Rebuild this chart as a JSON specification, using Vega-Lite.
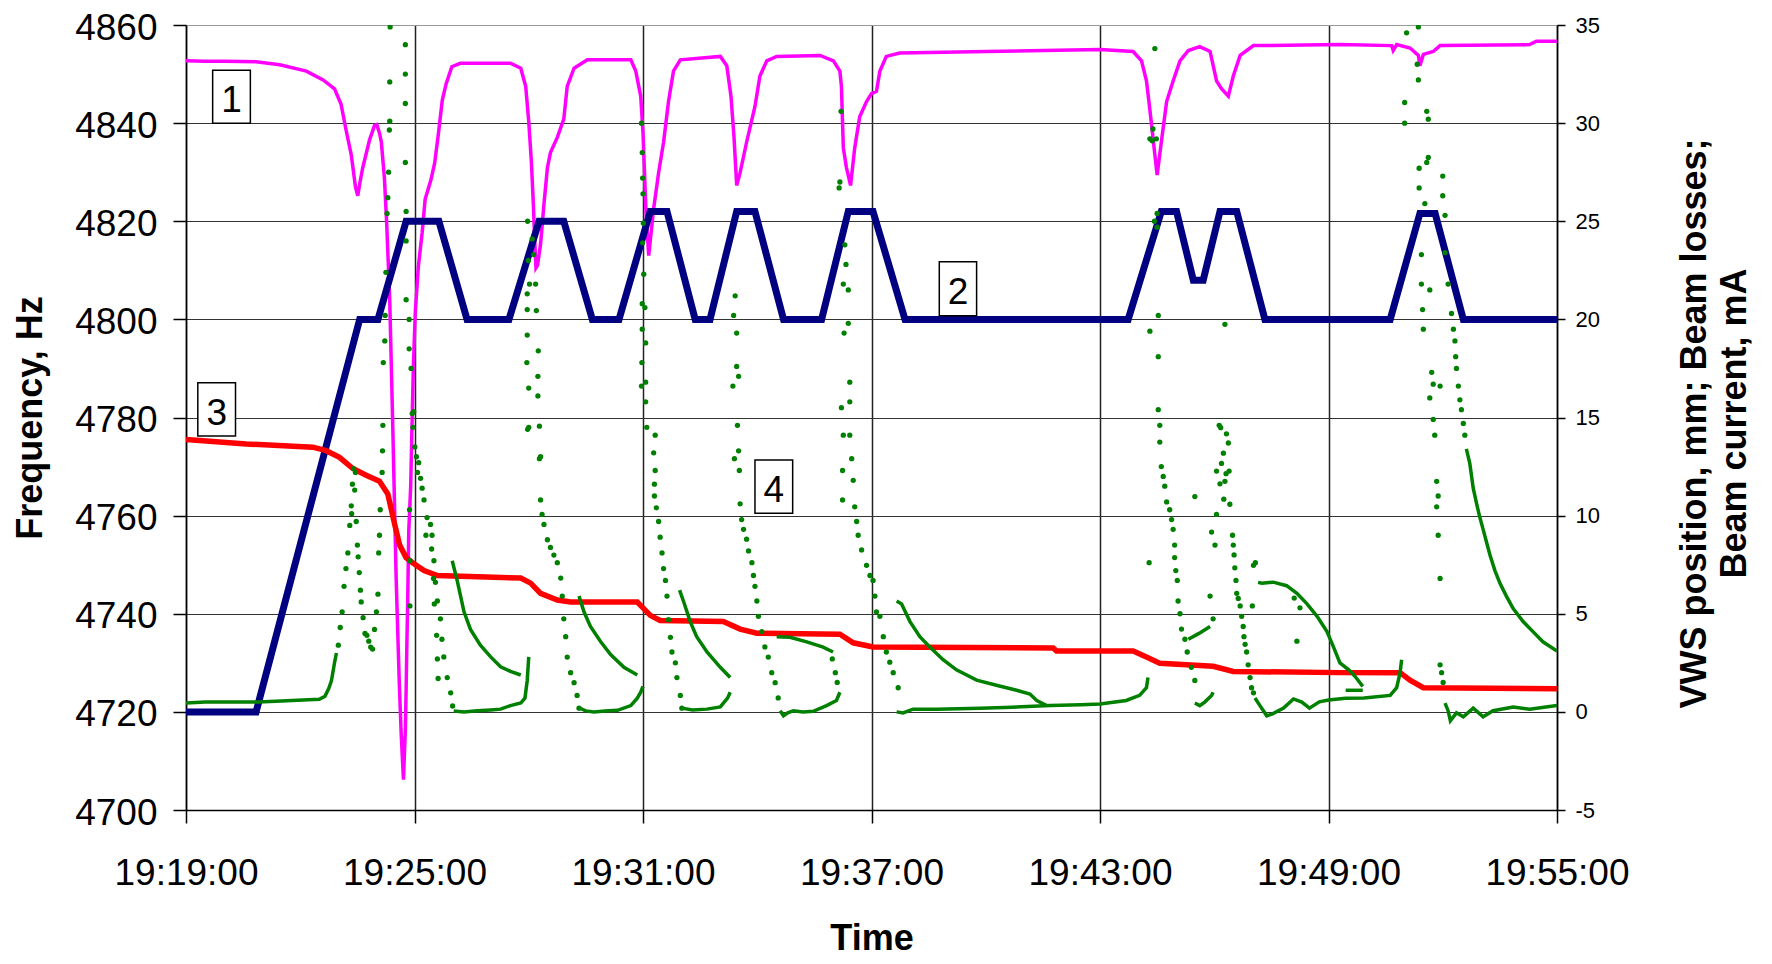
{
  "$schema": "https://vega.github.io/schema/vega-lite/v6.json",
  "width": 1371,
  "height": 785,
  "autosize": {"type": "none"},
  "padding": {"left": 186, "top": 25, "right": 215, "bottom": 154},
  "background": "white",
  "config": {"font": "Liberation Sans", "view": {"stroke": null}},
  "datasets": {
    "magenta": [
      {"t":19.0,"f":4852.7},{"t":19.5,"f":4852.6},{"t":20.0,"f":4852.6},{"t":20.84,"f":4852.5},{"t":21.46,"f":4851.9},{"t":22.16,"f":4850.6},{"t":22.6,"f":4848.8},{"t":22.9,"f":4847},{"t":23.07,"f":4843.9},{"t":23.2,"f":4838.7},{"t":23.34,"f":4833.5},{"t":23.45,"f":4827},{"t":23.51,"f":4825.2},{"t":23.57,"f":4828},{"t":23.64,"f":4830.9},{"t":23.82,"f":4836.6},{"t":23.95,"f":4839.5},{"t":24.01,"f":4839.7},{"t":24.08,"f":4838},{"t":24.13,"f":4836.1},{"t":24.21,"f":4828.8},{"t":24.27,"f":4819.5},{"t":24.35,"f":4803.9},{"t":24.43,"f":4777.9},{"t":24.52,"f":4746.7},{"t":24.6,"f":4726},{"t":24.65,"f":4715.6},{"t":24.71,"f":4706.2},{"t":24.76,"f":4716.3},{"t":24.78,"f":4724.5},{"t":24.8,"f":4734},{"t":24.82,"f":4742.2},{"t":24.85,"f":4757},{"t":24.9,"f":4766},{"t":24.93,"f":4776.8},{"t":24.97,"f":4790.3},{"t":25.02,"f":4801.3},{"t":25.1,"f":4810.7},{"t":25.2,"f":4817.6},{"t":25.28,"f":4824.5},{"t":25.43,"f":4828.4},{"t":25.53,"f":4831.9},{"t":25.63,"f":4838},{"t":25.73,"f":4844.7},{"t":25.83,"f":4848},{"t":25.98,"f":4851.5},{"t":26.2,"f":4852.2},{"t":27.52,"f":4852.2},{"t":27.79,"f":4851.2},{"t":27.92,"f":4847.5},{"t":28.0,"f":4840.3},{"t":28.07,"f":4832},{"t":28.12,"f":4823.6},{"t":28.15,"f":4817.4},{"t":28.19,"f":4810.5},{"t":28.23,"f":4811},{"t":28.31,"f":4815.3},{"t":28.4,"f":4823.6},{"t":28.49,"f":4830.9},{"t":28.57,"f":4834},{"t":28.75,"f":4837.1},{"t":28.92,"f":4840.8},{"t":29.01,"f":4847.5},{"t":29.19,"f":4851.2},{"t":29.54,"f":4852.9},{"t":30.68,"f":4852.9},{"t":30.81,"f":4850.6},{"t":30.94,"f":4845.5},{"t":31.0,"f":4838},{"t":31.04,"f":4829.9},{"t":31.08,"f":4821.6},{"t":31.15,"f":4813},{"t":31.28,"f":4822.6},{"t":31.41,"f":4829.9},{"t":31.54,"f":4836.1},{"t":31.67,"f":4844.4},{"t":31.8,"f":4850.6},{"t":31.98,"f":4852.9},{"t":33.03,"f":4853.6},{"t":33.2,"f":4851.7},{"t":33.31,"f":4845.5},{"t":33.39,"f":4837.1},{"t":33.46,"f":4827.3},{"t":33.55,"f":4829.9},{"t":33.72,"f":4836.1},{"t":33.94,"f":4843.4},{"t":34.07,"f":4849.6},{"t":34.25,"f":4852.7},{"t":34.51,"f":4853.6},{"t":35.65,"f":4853.8},{"t":36.0,"f":4852.7},{"t":36.17,"f":4850.6},{"t":36.21,"f":4847.5},{"t":36.24,"f":4840},{"t":36.26,"f":4835},{"t":36.34,"f":4831},{"t":36.45,"f":4827.3},{"t":36.56,"f":4835},{"t":36.69,"f":4841.3},{"t":36.87,"f":4844.4},{"t":37.0,"f":4846},{"t":37.13,"f":4846.5},{"t":37.22,"f":4850.6},{"t":37.39,"f":4853.6},{"t":37.74,"f":4854.3},{"t":40.02,"f":4854.6},{"t":43.0,"f":4855},{"t":43.87,"f":4854.6},{"t":44.09,"f":4852.7},{"t":44.22,"f":4848.6},{"t":44.3,"f":4843.4},{"t":44.39,"f":4837.1},{"t":44.5,"f":4829.4},{"t":44.61,"f":4836.1},{"t":44.75,"f":4844.4},{"t":44.92,"f":4848.6},{"t":45.1,"f":4852.7},{"t":45.32,"f":4854.8},{"t":45.62,"f":4855.6},{"t":45.89,"f":4854.6},{"t":46.06,"f":4848.6},{"t":46.19,"f":4847},{"t":46.37,"f":4845.5},{"t":46.5,"f":4849.6},{"t":46.68,"f":4853.8},{"t":47.03,"f":4855.8},{"t":49.31,"f":4856},{"t":50.66,"f":4855.8},{"t":50.7,"f":4854.8},{"t":50.79,"f":4856},{"t":51.14,"f":4855.3},{"t":51.36,"f":4853.8},{"t":51.4,"f":4851.7},{"t":51.49,"f":4854},{"t":51.75,"f":4854.6},{"t":51.93,"f":4855.8},{"t":54.28,"f":4856},{"t":54.46,"f":4856.7},{"t":55,"f":4856.7}
    ],
    "blue": [
      {"t":19.0,"r":0},{"t":20.84,"r":0},{"t":23.56,"r":20},{"t":24.04,"r":20},{"t":24.78,"r":25},{"t":25.64,"r":25},{"t":26.38,"r":20},{"t":27.48,"r":20},{"t":28.27,"r":25},{"t":28.92,"r":25},{"t":29.67,"r":20},{"t":30.37,"r":20},{"t":31.19,"r":25.5},{"t":31.63,"r":25.5},{"t":32.37,"r":20},{"t":32.76,"r":20},{"t":33.46,"r":25.5},{"t":33.94,"r":25.5},{"t":34.69,"r":20},{"t":35.69,"r":20},{"t":36.39,"r":25.5},{"t":37.04,"r":25.5},{"t":37.88,"r":20},{"t":43.74,"r":20},{"t":44.61,"r":25.5},{"t":45.01,"r":25.5},{"t":45.45,"r":22.0},{"t":45.71,"r":22.0},{"t":46.15,"r":25.5},{"t":46.59,"r":25.5},{"t":47.33,"r":20},{"t":50.62,"r":20},{"t":51.4,"r":25.4},{"t":51.8,"r":25.4},{"t":52.54,"r":20},{"t":55,"r":20}
    ],
    "red": [
      {"t":19.0,"r":13.88},{"t":20.58,"r":13.65},{"t":22.33,"r":13.49},{"t":22.68,"r":13.31},{"t":23.03,"r":12.97},{"t":23.38,"r":12.4},{"t":23.73,"r":12.06},{"t":24.08,"r":11.75},{"t":24.3,"r":11.1},{"t":24.48,"r":9.55},{"t":24.61,"r":8.5},{"t":24.78,"r":7.86},{"t":24.95,"r":7.6},{"t":25.25,"r":7.2},{"t":25.6,"r":6.95},{"t":27.79,"r":6.82},{"t":28.05,"r":6.56},{"t":28.31,"r":6.04},{"t":28.75,"r":5.7},{"t":29.1,"r":5.6},{"t":30.85,"r":5.6},{"t":31.0,"r":5.3},{"t":31.19,"r":4.92},{"t":31.45,"r":4.66},{"t":33.11,"r":4.61},{"t":33.55,"r":4.22},{"t":33.99,"r":4.01},{"t":36.17,"r":3.96},{"t":36.52,"r":3.52},{"t":37.04,"r":3.31},{"t":41.77,"r":3.26},{"t":41.86,"r":3.1},{"t":43.87,"r":3.1},{"t":44.22,"r":2.79},{"t":44.57,"r":2.48},{"t":45.97,"r":2.32},{"t":46.5,"r":2.06},{"t":49.3,"r":2.0},{"t":50.88,"r":2.0},{"t":51.14,"r":1.62},{"t":51.49,"r":1.23},{"t":55,"r":1.18}
    ],
    "greenLines": [
      {"s":1,"t":19.0,"r":0.45},{"s":1,"t":19.5,"r":0.5},{"s":1,"t":20.9,"r":0.5},{"s":1,"t":21.5,"r":0.55},{"s":1,"t":22.5,"r":0.64},{"s":1,"t":22.65,"r":0.8},{"s":1,"t":22.75,"r":1.2},{"s":1,"t":22.82,"r":1.6},{"s":1,"t":22.9,"r":2.5},{"s":1,"t":22.95,"r":3.0},
      {"s":2,"t":26.03,"r":0.05},{"s":2,"t":26.3,"r":0.0},{"s":2,"t":26.65,"r":0.06},{"s":2,"t":27.0,"r":0.1},{"s":2,"t":27.26,"r":0.14},{"s":2,"t":27.52,"r":0.32},{"s":2,"t":27.79,"r":0.45},{"s":2,"t":27.9,"r":0.7},{"s":2,"t":27.96,"r":1.6},{"s":2,"t":28.0,"r":2.8},
      {"s":3,"t":25.99,"r":7.7},{"s":3,"t":26.12,"r":6.7},{"s":3,"t":26.3,"r":5.1},{"s":3,"t":26.47,"r":4.2},{"s":3,"t":26.73,"r":3.4},{"s":3,"t":27.0,"r":2.8},{"s":3,"t":27.26,"r":2.3},{"s":3,"t":27.52,"r":2.06},{"s":3,"t":27.79,"r":1.88},
      {"s":4,"t":29.32,"r":0.2},{"s":4,"t":29.5,"r":0.05},{"s":4,"t":29.71,"r":0.0},{"s":4,"t":30.0,"r":0.05},{"s":4,"t":30.33,"r":0.08},{"s":4,"t":30.68,"r":0.32},{"s":4,"t":30.85,"r":0.7},{"s":4,"t":30.94,"r":1.0},{"s":4,"t":31.0,"r":1.3},
      {"s":5,"t":29.32,"r":5.9},{"s":5,"t":29.45,"r":5.1},{"s":5,"t":29.62,"r":4.35},{"s":5,"t":29.89,"r":3.57},{"s":5,"t":30.15,"r":2.92},{"s":5,"t":30.5,"r":2.27},{"s":5,"t":30.85,"r":1.88},
      {"s":6,"t":32.02,"r":0.19},{"s":6,"t":32.3,"r":0.1},{"s":6,"t":32.68,"r":0.14},{"s":6,"t":33.03,"r":0.25},{"s":6,"t":33.22,"r":0.7},{"s":6,"t":33.29,"r":1.0},
      {"s":7,"t":31.96,"r":6.2},{"s":7,"t":32.07,"r":5.6},{"s":7,"t":32.24,"r":4.6},{"s":7,"t":32.41,"r":3.83},{"s":7,"t":32.68,"r":3.05},{"s":7,"t":33.03,"r":2.27},{"s":7,"t":33.29,"r":1.75},
      {"s":8,"t":34.6,"r":0.06},{"s":8,"t":34.69,"r":-0.2},{"s":8,"t":34.8,"r":-0.05},{"s":8,"t":34.95,"r":0.06},{"s":8,"t":35.2,"r":0.0},{"s":8,"t":35.47,"r":0.03},{"s":8,"t":35.82,"r":0.32},{"s":8,"t":36.08,"r":0.58},{"s":8,"t":36.17,"r":1.0},
      {"s":9,"t":34.51,"r":3.83},{"s":9,"t":34.86,"r":3.8},{"s":9,"t":35.3,"r":3.57},{"s":9,"t":35.73,"r":3.3},{"s":9,"t":35.99,"r":3.05},
      {"s":10,"t":37.66,"r":0.0},{"s":10,"t":37.83,"r":-0.05},{"s":10,"t":38.09,"r":0.14},{"s":10,"t":38.71,"r":0.14},{"s":10,"t":39.85,"r":0.19},{"s":10,"t":40.5,"r":0.22},{"s":10,"t":41.69,"r":0.32},{"s":10,"t":42.5,"r":0.36},{"s":10,"t":43.0,"r":0.4},{"s":10,"t":43.69,"r":0.58},{"s":10,"t":44.04,"r":0.84},{"s":10,"t":44.22,"r":1.23},{"s":10,"t":44.26,"r":1.75},
      {"s":11,"t":37.66,"r":5.65},{"s":11,"t":37.79,"r":5.5},{"s":11,"t":38.01,"r":4.6},{"s":11,"t":38.27,"r":3.83},{"s":11,"t":38.53,"r":3.31},{"s":11,"t":38.88,"r":2.66},{"s":11,"t":39.23,"r":2.14},{"s":11,"t":39.76,"r":1.62},{"s":11,"t":40.28,"r":1.36},{"s":11,"t":40.81,"r":1.1},{"s":11,"t":41.16,"r":0.91},{"s":11,"t":41.34,"r":0.58},{"s":11,"t":41.6,"r":0.32},
      {"s":12,"t":45.32,"r":3.7},{"s":12,"t":45.6,"r":4.0},{"s":12,"t":45.89,"r":4.35},
      {"s":13,"t":45.49,"r":0.45},{"s":13,"t":45.62,"r":0.32},{"s":13,"t":45.75,"r":0.5},{"s":13,"t":45.93,"r":0.84},{"s":13,"t":45.97,"r":1.0},
      {"s":14,"t":47.07,"r":0.71},{"s":14,"t":47.2,"r":0.32},{"s":14,"t":47.38,"r":-0.2},{"s":14,"t":47.53,"r":-0.1},{"s":14,"t":47.82,"r":0.19},{"s":14,"t":48.08,"r":0.66},{"s":14,"t":48.3,"r":0.5},{"s":14,"t":48.5,"r":0.19},{"s":14,"t":48.76,"r":0.51},{"s":14,"t":49.0,"r":0.6},{"s":14,"t":49.45,"r":0.7},{"s":14,"t":49.93,"r":0.71},{"s":14,"t":50.62,"r":0.84},{"s":14,"t":50.79,"r":1.23},{"s":14,"t":50.88,"r":2.0},{"s":14,"t":50.92,"r":2.66},
      {"s":15,"t":47.15,"r":6.6},{"s":15,"t":47.25,"r":6.56},{"s":15,"t":47.55,"r":6.61},{"s":15,"t":47.9,"r":6.43},{"s":15,"t":48.17,"r":6.04},{"s":15,"t":48.43,"r":5.52},{"s":15,"t":48.7,"r":4.87},{"s":15,"t":48.96,"r":4.09},{"s":15,"t":49.13,"r":3.31},{"s":15,"t":49.3,"r":2.5},{"s":15,"t":49.54,"r":2.13},{"s":15,"t":49.7,"r":1.8},{"s":15,"t":49.9,"r":1.3},
      {"s":16,"t":49.45,"r":1.1},{"s":16,"t":49.9,"r":1.1},
      {"s":17,"t":52.06,"r":0.45},{"s":17,"t":52.14,"r":0.06},{"s":17,"t":52.2,"r":-0.45},{"s":17,"t":52.36,"r":-0.05},{"s":17,"t":52.54,"r":-0.25},{"s":17,"t":52.8,"r":0.19},{"s":17,"t":53.06,"r":-0.25},{"s":17,"t":53.32,"r":0.06},{"s":17,"t":53.85,"r":0.25},{"s":17,"t":54.28,"r":0.14},{"s":17,"t":55,"r":0.32},
      {"s":18,"t":52.62,"r":13.4},{"s":18,"t":52.71,"r":12.66},{"s":18,"t":52.8,"r":11.4},{"s":18,"t":52.89,"r":10.6},{"s":18,"t":52.97,"r":9.94},{"s":18,"t":53.06,"r":9.3},{"s":18,"t":53.15,"r":8.64},{"s":18,"t":53.24,"r":7.99},{"s":18,"t":53.37,"r":7.2},{"s":18,"t":53.5,"r":6.56},{"s":18,"t":53.67,"r":5.9},{"s":18,"t":53.85,"r":5.26},{"s":18,"t":54.11,"r":4.6},{"s":18,"t":54.37,"r":4.09},{"s":18,"t":54.63,"r":3.57},{"s":18,"t":55,"r":3.1}
    ],
    "greenPoints": [
      {"t":23.0,"r":3.4},{"t":23.05,"r":4.3},{"t":23.1,"r":5.1},{"t":23.15,"r":6.4},{"t":23.2,"r":7.3},{"t":23.25,"r":8.1},{"t":23.3,"r":9.5},{"t":23.34,"r":10.5},{"t":23.37,"r":11.6},{"t":23.4,"r":12.4},{"t":23.35,"r":10.1},{"t":23.43,"r":11.3},{"t":23.45,"r":12.2},{"t":23.47,"r":9.7},{"t":23.5,"r":8.5},{"t":23.52,"r":7.9},{"t":23.55,"r":7.1},{"t":23.58,"r":6.2},{"t":23.6,"r":5.6},{"t":23.65,"r":4.8},{"t":23.7,"r":4.0},{"t":23.75,"r":3.9},{"t":23.8,"r":3.6},{"t":23.85,"r":3.3},{"t":23.9,"r":3.2},{"t":23.95,"r":4.2},{"t":24.0,"r":5.1},{"t":24.04,"r":6.0},{"t":24.06,"r":8.1},{"t":24.08,"r":9.0},{"t":24.1,"r":10.3},{"t":24.15,"r":12.2},{"t":24.16,"r":13.3},{"t":24.17,"r":14.6},{"t":24.18,"r":17.8},{"t":24.22,"r":18.9},{"t":24.23,"r":20.2},{"t":24.25,"r":22.4},{"t":24.28,"r":25.4},{"t":24.3,"r":26.2},{"t":24.32,"r":27.5},{"t":24.34,"r":29.65},{"t":24.35,"r":30.1},{"t":24.35,"r":32.1},{"t":24.36,"r":34.9},
      {"t":24.76,"r":34.0},{"t":24.76,"r":32.5},{"t":24.76,"r":31.0},{"t":24.76,"r":28.0},{"t":24.78,"r":25.5},{"t":24.78,"r":24.0},{"t":24.78,"r":21.0},{"t":24.86,"r":20.0},{"t":24.86,"r":18.5},{"t":24.91,"r":17.5},{"t":24.94,"r":15.2},{"t":24.96,"r":14.5},{"t":25.01,"r":13.5},{"t":25.05,"r":13.0},{"t":25.11,"r":12.7},{"t":25.16,"r":11.9},{"t":25.2,"r":11.4},{"t":25.25,"r":10.8},{"t":25.33,"r":9.9},{"t":25.42,"r":9.55},{"t":25.46,"r":9.0},{"t":25.51,"r":7.7},{"t":25.55,"r":6.6},{"t":25.6,"r":5.65},{"t":25.68,"r":4.74},{"t":25.72,"r":3.7},{"t":25.77,"r":2.8},{"t":25.86,"r":1.75},{"t":25.95,"r":0.97},{"t":26.0,"r":0.3},{"t":24.87,"r":10.3},{"t":24.88,"r":7.7},{"t":24.88,"r":5.4},{"t":24.98,"r":15.3},{"t":25.08,"r":12.2},{"t":25.3,"r":9.0},{"t":25.45,"r":8.3},{"t":25.5,"r":6.8},{"t":25.52,"r":5.5},{"t":25.58,"r":3.9},{"t":25.6,"r":2.7},{"t":25.62,"r":1.7},
      {"t":27.97,"r":25.0},{"t":27.99,"r":23.0},{"t":27.96,"r":21.3},{"t":27.96,"r":20.5},{"t":27.96,"r":19.2},{"t":27.95,"r":17.8},{"t":27.97,"r":14.4},{"t":28.0,"r":14.5},{"t":28.0,"r":16.5},{"t":28.09,"r":24.1},{"t":28.13,"r":23.3},{"t":28.02,"r":21.8},{"t":28.18,"r":21.8},{"t":28.2,"r":20.45},{"t":28.25,"r":18.4},{"t":28.24,"r":17.1},{"t":28.24,"r":16.1},{"t":28.28,"r":14.56},{"t":28.28,"r":12.9},{"t":28.31,"r":13.0},{"t":28.31,"r":10.8},{"t":28.35,"r":10.06},{"t":28.4,"r":9.55},{"t":28.49,"r":8.77},{"t":28.57,"r":8.38},{"t":28.66,"r":7.99},{"t":28.75,"r":7.6},{"t":28.84,"r":6.82},{"t":28.88,"r":5.9},{"t":28.92,"r":4.74},{"t":28.97,"r":3.83},{"t":29.01,"r":2.79},{"t":29.1,"r":2.0},{"t":29.19,"r":1.49},{"t":29.27,"r":0.84},{"t":29.32,"r":0.19},
      {"t":30.96,"r":30.0},{"t":30.98,"r":28.5},{"t":30.99,"r":27.2},{"t":31.0,"r":26.4},{"t":31.01,"r":24.9},{"t":30.99,"r":23.9},{"t":31.02,"r":22.3},{"t":30.98,"r":20.8},{"t":31.05,"r":20.6},{"t":30.98,"r":19.5},{"t":31.07,"r":18.8},{"t":30.97,"r":17.8},{"t":31.07,"r":16.8},{"t":30.96,"r":16.6},{"t":31.07,"r":15.8},{"t":31.1,"r":14.5},{"t":31.32,"r":14.1},{"t":31.28,"r":13.2},{"t":31.32,"r":12.3},{"t":31.3,"r":11.6},{"t":31.3,"r":11.0},{"t":31.35,"r":10.4},{"t":31.41,"r":9.7},{"t":31.45,"r":8.9},{"t":31.5,"r":8.1},{"t":31.54,"r":7.3},{"t":31.59,"r":6.7},{"t":31.63,"r":5.9},{"t":31.67,"r":4.7},{"t":31.72,"r":3.8},{"t":31.76,"r":3.05},{"t":31.85,"r":2.5},{"t":31.89,"r":1.75},{"t":31.98,"r":0.84},{"t":32.02,"r":0.19},
      {"t":33.42,"r":21.2},{"t":33.38,"r":20.2},{"t":33.46,"r":19.3},{"t":33.46,"r":17.6},{"t":33.51,"r":17.1},{"t":33.48,"r":14.6},{"t":33.51,"r":13.3},{"t":33.53,"r":12.3},{"t":33.55,"r":10.6},{"t":33.59,"r":9.8},{"t":33.64,"r":9.3},{"t":33.72,"r":8.8},{"t":33.77,"r":8.2},{"t":33.86,"r":7.6},{"t":33.9,"r":6.95},{"t":33.94,"r":6.4},{"t":33.99,"r":5.65},{"t":34.03,"r":4.87},{"t":34.12,"r":4.09},{"t":34.2,"r":3.31},{"t":34.29,"r":2.79},{"t":34.38,"r":2.0},{"t":34.47,"r":1.49},{"t":34.55,"r":0.71},{"t":33.36,"r":16.6},{"t":33.4,"r":12.9},
      {"t":36.2,"r":30.6},{"t":36.17,"r":27.0},{"t":36.15,"r":26.7},{"t":36.3,"r":23.8},{"t":36.33,"r":22.8},{"t":36.26,"r":21.8},{"t":36.39,"r":21.5},{"t":36.39,"r":19.8},{"t":36.28,"r":19.3},{"t":36.43,"r":16.8},{"t":36.21,"r":15.5},{"t":36.43,"r":15.8},{"t":36.26,"r":14.1},{"t":36.43,"r":14.1},{"t":36.48,"r":12.9},{"t":36.24,"r":12.3},{"t":36.52,"r":11.8},{"t":36.24,"r":10.8},{"t":36.56,"r":10.45},{"t":36.61,"r":9.7},{"t":36.65,"r":9.0},{"t":36.74,"r":8.25},{"t":36.87,"r":7.47},{"t":36.96,"r":6.95},{"t":37.04,"r":6.7},{"t":37.09,"r":5.9},{"t":37.13,"r":5.1},{"t":37.22,"r":4.87},{"t":37.31,"r":3.83},{"t":37.39,"r":3.05},{"t":37.48,"r":2.53},{"t":37.57,"r":2.0},{"t":37.7,"r":1.23},{"t":35.97,"r":2.7},{"t":36.05,"r":2.0},{"t":36.1,"r":1.5},
      {"t":44.44,"r":33.8},{"t":44.39,"r":29.7},{"t":44.31,"r":29.2},{"t":44.48,"r":29.2},{"t":44.5,"r":25.4},{"t":44.5,"r":24.7},{"t":44.53,"r":20.2},{"t":44.31,"r":19.4},{"t":44.53,"r":18.1},{"t":44.53,"r":15.4},{"t":44.57,"r":14.6},{"t":44.57,"r":13.75},{"t":44.61,"r":12.5},{"t":44.66,"r":12.0},{"t":44.7,"r":11.5},{"t":44.75,"r":10.7},{"t":44.83,"r":10.3},{"t":44.88,"r":9.8},{"t":44.92,"r":9.3},{"t":44.96,"r":8.5},{"t":44.96,"r":7.86},{"t":44.99,"r":7.2},{"t":45.03,"r":6.7},{"t":45.05,"r":5.65},{"t":45.1,"r":5.0},{"t":45.14,"r":4.22},{"t":45.23,"r":3.7},{"t":45.29,"r":3.05},{"t":45.4,"r":2.27},{"t":45.49,"r":1.6},{"t":44.29,"r":7.6},{"t":45.49,"r":10.97},{"t":45.89,"r":5.9},{"t":45.97,"r":4.74},{"t":44.37,"r":29.1},{"t":44.43,"r":25.0},
      {"t":46.13,"r":14.6},{"t":46.17,"r":14.48},{"t":46.32,"r":14.17},{"t":46.37,"r":13.7},{"t":46.24,"r":13.18},{"t":46.19,"r":12.66},{"t":46.06,"r":12.27},{"t":46.31,"r":12.14},{"t":46.39,"r":12.27},{"t":46.15,"r":11.62},{"t":46.28,"r":11.75},{"t":46.41,"r":10.58},{"t":46.25,"r":10.84},{"t":46.06,"r":10.06},{"t":45.93,"r":9.16},{"t":46.02,"r":8.5},{"t":46.48,"r":9.0},{"t":46.5,"r":8.5},{"t":46.52,"r":8.0},{"t":46.54,"r":7.34},{"t":46.57,"r":6.7},{"t":46.59,"r":6.04},{"t":46.63,"r":5.78},{"t":46.68,"r":5.4},{"t":46.72,"r":4.87},{"t":46.76,"r":4.35},{"t":46.78,"r":3.83},{"t":46.81,"r":3.44},{"t":46.85,"r":3.05},{"t":46.89,"r":2.4},{"t":46.94,"r":1.75},{"t":46.98,"r":1.23},{"t":47.03,"r":0.97},{"t":47.0,"r":5.4},{"t":46.28,"r":19.75},{"t":47.03,"r":7.47},{"t":47.08,"r":7.6},{"t":48.1,"r":5.8},{"t":48.25,"r":5.3},{"t":48.17,"r":3.6},
      {"t":51.36,"r":34.9},{"t":51.05,"r":34.6},{"t":51.33,"r":33.0},{"t":51.36,"r":32.2},{"t":51.0,"r":31.05},{"t":51.0,"r":30.0},{"t":51.58,"r":30.6},{"t":51.62,"r":30.2},{"t":51.62,"r":28.25},{"t":51.38,"r":27.7},{"t":51.58,"r":28.0},{"t":51.38,"r":26.7},{"t":52.0,"r":27.3},{"t":52.0,"r":26.3},{"t":51.53,"r":25.9},{"t":52.06,"r":25.3},{"t":52.06,"r":23.4},{"t":51.44,"r":23.3},{"t":51.44,"r":21.8},{"t":51.66,"r":21.5},{"t":51.47,"r":20.5},{"t":52.14,"r":21.8},{"t":52.23,"r":20.3},{"t":51.49,"r":19.5},{"t":52.28,"r":19.5},{"t":52.32,"r":18.9},{"t":52.34,"r":18.1},{"t":51.71,"r":17.3},{"t":52.36,"r":17.5},{"t":51.75,"r":16.7},{"t":51.93,"r":16.6},{"t":51.66,"r":16.0},{"t":52.41,"r":16.6},{"t":52.45,"r":15.9},{"t":52.49,"r":15.4},{"t":51.75,"r":14.9},{"t":51.79,"r":14.1},{"t":52.54,"r":14.7},{"t":52.58,"r":14.1},{"t":51.84,"r":11.75},{"t":51.88,"r":11.0},{"t":51.84,"r":10.45},{"t":51.88,"r":9.0},{"t":51.93,"r":6.8},{"t":51.93,"r":2.4},{"t":51.97,"r":2.0},{"t":52.01,"r":1.5}
    ],
    "boxes": [
      {"t":19.70,"t2":20.69,"r":30.0,"r2":32.7},
      {"t":19.31,"t2":20.30,"r":14.06,"r2":16.77},
      {"t":38.78,"t2":39.76,"r":20.19,"r2":22.94},
      {"t":33.94,"t2":34.93,"r":10.12,"r2":12.83}
    ],
    "labels": [
      {"t":20.195,"r":31.15,"label":"1"},
      {"t":19.805,"r":15.2,"label":"3"},
      {"t":39.27,"r":21.36,"label":"2"},
      {"t":34.435,"r":11.27,"label":"4"}
    ]
  },
  "encoding": {
    "x": {
      "field": "t",
      "type": "quantitative",
      "scale": {"domain": [19, 55], "nice": false, "zero": false},
      "axis": {
        "values": [19, 25, 31, 37, 43, 49, 55],
        "labelExpr": "'19:' + datum.value + ':00'",
        "title": "Time",
        "titleFontSize": 36,
        "titleFontWeight": "bold",
        "titleColor": "black",
        "titleY": 128,
        "titleBaseline": "middle",
        "labelFontSize": 37,
        "labelColor": "black",
        "labelPadding": 32,
        "labelFlush": false,
        "labelOverlap": false,
        "tickSize": 13,
        "tickColor": "black",
        "tickWidth": 1.5,
        "domainColor": "black",
        "domainWidth": 1.5,
        "grid": true,
        "gridColor": "#222222",
        "gridWidth": 1.5
      }
    }
  },
  "layer": [
    {
      "data": {"name": "magenta"},
      "mark": {"type": "line", "color": "#FF00FF", "strokeWidth": 3.5, "clip": true},
      "encoding": {
        "y": {
          "field": "f",
          "type": "quantitative",
          "scale": {"domain": [4700, 4860], "nice": false, "zero": false},
          "axis": {
            "orient": "left",
            "values": [4700, 4720, 4740, 4760, 4780, 4800, 4820, 4840, 4860],
            "labelExpr": "'' + datum.value",
            "title": "Frequency, Hz",
            "titleFontSize": 36,
            "titleFontWeight": "bold",
            "titleColor": "black",
            "titleX": -156,
            "titleY": 392.5,
            "titleAngle": -90,
            "titleAlign": "center",
            "titleBaseline": "middle",
            "labelFontSize": 37,
            "labelColor": "black",
            "labelPadding": 16,
            "labelOffset": 3,
            "labelFlush": false,
            "labelOverlap": false,
            "tickSize": 13,
            "tickColor": "black",
            "tickWidth": 1.5,
            "domainColor": "black",
            "domainWidth": 1.5,
            "grid": true,
            "gridColor": {"condition": {"test": "datum.value == 4860", "value": "#999999"}, "value": "#333333"},
            "gridWidth": 1.2
          }
        }
      }
    },
    {
      "encoding": {
        "y": {
          "field": "r",
          "type": "quantitative",
          "scale": {"domain": [-5, 35], "nice": false, "zero": false},
          "axis": {
            "orient": "right",
            "values": [-5, 0, 5, 10, 15, 20, 25, 30, 35],
            "labelExpr": "'' + datum.value",
            "title": ["VWS position, mm; Beam losses;", "Beam current, mA"],
            "titleFontSize": 36,
            "titleFontWeight": "bold",
            "titleColor": "black",
            "titleX": 120,
            "titleY": 398,
            "titleAngle": -90,
            "titleAlign": "center",
            "titleBaseline": "top",
            "titleLineHeight": 40,
            "labelFontSize": 22,
            "labelColor": "black",
            "labelPadding": 10,
            "labelFlush": false,
            "labelOverlap": false,
            "tickSize": 8,
            "tickColor": "black",
            "tickWidth": 1.5,
            "domainColor": "black",
            "domainWidth": 1.5,
            "grid": false
          }
        }
      },
      "layer": [
        {"data": {"name": "blue"}, "mark": {"type": "line", "color": "#000080", "strokeWidth": 7, "clip": true}},
        {"data": {"name": "red"}, "mark": {"type": "line", "color": "#FF0000", "strokeWidth": 5.5, "clip": true}},
        {"data": {"name": "greenLines"}, "mark": {"type": "line", "color": "#008000", "strokeWidth": 3.5, "clip": true}, "encoding": {"detail": {"field": "s", "type": "nominal"}}},
        {"data": {"name": "greenPoints"}, "mark": {"type": "circle", "color": "#008000", "size": 28, "opacity": 1, "clip": true}},
        {"data": {"name": "boxes"}, "mark": {"type": "rect", "fill": "white", "stroke": "black", "strokeWidth": 1.5}, "encoding": {"x2": {"field": "t2"}, "y2": {"field": "r2"}}},
        {"data": {"name": "labels"}, "mark": {"type": "text", "fontSize": 37, "color": "black", "align": "center", "baseline": "middle"}, "encoding": {"text": {"field": "label", "type": "nominal"}}}
      ]
    }
  ],
  "resolve": {"scale": {"y": "independent"}}
}
